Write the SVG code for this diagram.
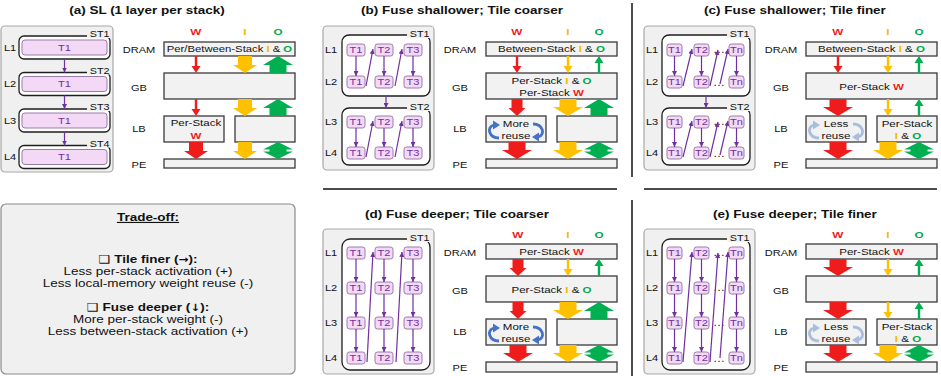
<svg xmlns="http://www.w3.org/2000/svg" width="941" height="376" viewBox="0 0 941 376">
<style>
text{font-family:"Liberation Sans","DejaVu Sans",Arial,sans-serif;fill:#111;transform-box:fill-box;transform-origin:center;transform:scaleX(1.2)}
.ttl{font-size:11.25px;font-weight:bold;text-anchor:middle}
.lvl{font-size:9.2px;text-anchor:middle}
.lab{font-size:9.2px}
.st{font-size:9px;text-anchor:end}
.bt{font-size:9.6px;text-anchor:middle}
.pt{font-size:9.2px;text-anchor:middle;fill:#7030a0}
.dots{font-size:10px;text-anchor:middle;fill:#222}
.hd{font-size:9.8px;font-weight:bold;text-anchor:middle}
.W{fill:#f01c1c;font-weight:bold}
.I{fill:#f5b800;font-weight:bold}
.O{fill:#00a84a;font-weight:bold}
.ar{font-family:"DejaVu Sans",sans-serif;font-size:10px}
.panel{fill:#f0f0f0;stroke:#a8a8a8;stroke-width:1.2}
.stk{fill:#ffffff;stroke:#1e1e1e;stroke-width:1.3}
.stbg{fill:#f0f0f0}
.pill{fill:#f3d9f6;stroke:#9b7ca8;stroke-width:1}
.mem{fill:#f2f2f2;stroke:#3a3a3a;stroke-width:1.3}
.pa{stroke:#7030a0;stroke-width:1.2;fill:none;marker-end:url(#pm)}
.sep{stroke:#111;stroke-width:1.5}
.tr{font-size:11.25px;text-anchor:middle}
.trb{font-size:11.25px;text-anchor:middle;font-weight:bold}
</style>
<defs>
<marker id="pm" viewBox="0 0 6 6" refX="6" refY="3" markerWidth="5" markerHeight="5" markerUnits="userSpaceOnUse" orient="auto"><path d="M0,0 L6,3 L0,6 z" fill="#7030a0"/></marker>
<path id="bD" d="M-8.5,0h17v8h6.5l-15,9l-15,-9h6.5z"/>
<path id="bU" d="M-8.5,17h17v-8h6.5l-15,-9l-15,9h6.5z"/>
<path id="bX" d="M0,0l15,7.5h-6.5v2h6.5l-15,7.5l-15,-7.5h6.5v-2h-6.5z"/>
<path id="mD" d="M-7,0h14v9h5l-12,8l-12,-8h5z"/>
<path id="rD" d="M-5.5,0h11v9h3l-8.5,8l-8.5,-8h3z"/>
<path id="tD" d="M-1.2,0h2.4v10h3.3l-4.5,7l-4.5,-7h3.3z"/>
<path id="tU" d="M-1.2,17h2.4v-10h3.3l-4.5,-7l-4.5,7h3.3z"/>
<g id="arcs">
<path d="M13,22 C3,22 0,11 8,9" fill="none" stroke="currentColor" stroke-width="2.8"/>
<polygon points="7,4.5 14,9 7,13.5" fill="currentColor"/>
<path d="M47,8 C57,8 60,19 52,21" fill="none" stroke="currentColor" stroke-width="2.8"/>
<polygon points="53,16.5 46,21 53,25.5" fill="currentColor"/>
</g>
</defs>

<!-- titles -->
<text class="ttl" x="147" y="14">(a) SL (1 layer per stack)</text>
<text class="ttl" x="462" y="14">(b) Fuse shallower; Tile coarser</text>
<text class="ttl" x="795" y="14">(c) Fuse shallower; Tile finer</text>
<text class="ttl" x="457" y="218">(d) Fuse deeper; Tile coarser</text>
<text class="ttl" x="795" y="218">(e) Fuse deeper; Tile finer</text>

<!-- separators -->
<g id="separators">
<line class="sep" x1="632" y1="3" x2="632" y2="177"/>
<line class="sep" x1="632" y1="200" x2="632" y2="376"/>
<line class="sep" x1="323" y1="189" x2="617" y2="189"/>
<line class="sep" x1="644" y1="189" x2="937" y2="189"/>
</g>

<!-- ===== Panel (a) stacks ===== -->
<g id="a-stacks">
<rect class="panel" x="1" y="26" width="112" height="146" rx="4"/>
<rect class="stk" x="19" y="36" width="91" height="23" rx="5"/>
<rect class="stbg" x="87" y="27" width="24" height="11"/>
<text class="st" x="108" y="37.5">ST1</text>
<rect class="pill" x="22" y="40" width="85" height="15" rx="3"/>
<text class="pt" x="64.5" y="51">T1</text>
<text class="lab" x="5" y="51">L1</text>

<rect class="stk" x="19" y="72.5" width="91" height="23" rx="5"/>
<rect class="stbg" x="87" y="63.5" width="24" height="11"/>
<text class="st" x="108" y="74">ST2</text>
<rect class="pill" x="22" y="76.5" width="85" height="15" rx="3"/>
<text class="pt" x="64.5" y="87.5">T1</text>
<text class="lab" x="5" y="87.5">L2</text>

<rect class="stk" x="19" y="109" width="91" height="23" rx="5"/>
<rect class="stbg" x="87" y="100" width="24" height="11"/>
<text class="st" x="108" y="110.5">ST3</text>
<rect class="pill" x="22" y="113" width="85" height="15" rx="3"/>
<text class="pt" x="64.5" y="124">T1</text>
<text class="lab" x="5" y="124">L3</text>

<rect class="stk" x="19" y="145.5" width="91" height="23" rx="5"/>
<rect class="stbg" x="87" y="136.5" width="24" height="11"/>
<text class="st" x="108" y="147">ST4</text>
<rect class="pill" x="22" y="149.5" width="85" height="15" rx="3"/>
<text class="pt" x="64.5" y="160.5">T1</text>
<text class="lab" x="5" y="160.5">L4</text>
</g>
<g id="a-stack-arrows">
<line class="pa" x1="64.5" y1="59" x2="64.5" y2="72.5"/>
<line class="pa" x1="64.5" y1="95.5" x2="64.5" y2="109"/>
<line class="pa" x1="64.5" y1="132" x2="64.5" y2="145.5"/>
</g>

<!-- ===== Panel (a) memory ===== -->
<g id="a-mem">
<text class="lvl" x="139" y="53.5">DRAM</text>
<text class="lvl" x="139" y="91.5">GB</text>
<text class="lvl" x="139" y="132.5">LB</text>
<text class="lvl" x="139" y="168.5">PE</text>
<text class="hd W" x="196" y="35">W</text>
<text class="hd I" x="245" y="35">I</text>
<text class="hd O" x="278" y="35">O</text>
<rect class="mem" x="164" y="42" width="131" height="14"/>
<text class="bt" x="229.5" y="52.5" style="font-size:9.4px">Per/Between-Stack <tspan class="I">I</tspan> &amp; <tspan class="O">O</tspan></text>
<rect class="mem" x="164" y="73" width="131" height="26"/>
<rect class="mem" x="164" y="116" width="60" height="26"/>
<text class="bt" x="196" y="126">Per-Stack</text>
<text class="bt W" x="196" y="139">W</text>
<rect class="mem" x="235" y="116" width="60" height="26"/>
<rect class="mem" x="164" y="159" width="131" height="9"/>
</g>
<g id="a-flows">
<use href="#tD" x="196" y="56" fill="#f01c1c"/>
<use href="#tD" x="196" y="99" fill="#f01c1c"/>
<use href="#mD" x="196" y="142" fill="#f01c1c"/>
<use href="#mD" x="245" y="56" fill="#ffc000"/>
<use href="#mD" x="245" y="99" fill="#ffc000"/>
<use href="#mD" x="245" y="142" fill="#ffc000"/>
<use href="#bU" x="278" y="56" fill="#00b050"/>
<use href="#bU" x="278" y="99" fill="#00b050"/>
<use href="#bX" x="278" y="142" fill="#00b050"/>
</g>

<!-- ===== Panel (b) stacks ===== -->
<g id="b-stacks">
<rect class="panel" x="323" y="26" width="111" height="144" rx="4"/>
<rect class="stk" x="342" y="35" width="88" height="61" rx="7"/>
<rect class="stbg" x="407" y="27" width="26" height="11"/>
<text class="st" x="428" y="37">ST1</text>
<rect class="stk" x="342" y="108" width="88" height="57" rx="7"/>
<rect class="stbg" x="407" y="100" width="26" height="11"/>
<text class="st" x="428" y="110">ST2</text>
<text class="lab" x="326" y="53.5">L1</text>
<text class="lab" x="326" y="85.5">L2</text>
<text class="lab" x="326" y="125.5">L3</text>
<text class="lab" x="326" y="156.5">L4</text>
<g id="b-pills">
<rect class="pill" x="347" y="44" width="18" height="12" rx="2.5"/><text class="pt" x="356" y="53.5">T1</text>
<rect class="pill" x="375" y="44" width="18" height="12" rx="2.5"/><text class="pt" x="384" y="53.5">T2</text>
<rect class="pill" x="404" y="44" width="18" height="12" rx="2.5"/><text class="pt" x="413" y="53.5">T3</text>
<rect class="pill" x="347" y="76" width="18" height="12" rx="2.5"/><text class="pt" x="356" y="85.5">T1</text>
<rect class="pill" x="375" y="76" width="18" height="12" rx="2.5"/><text class="pt" x="384" y="85.5">T2</text>
<rect class="pill" x="404" y="76" width="18" height="12" rx="2.5"/><text class="pt" x="413" y="85.5">T3</text>
<rect class="pill" x="347" y="116" width="18" height="12" rx="2.5"/><text class="pt" x="356" y="125.5">T1</text>
<rect class="pill" x="375" y="116" width="18" height="12" rx="2.5"/><text class="pt" x="384" y="125.5">T2</text>
<rect class="pill" x="404" y="116" width="18" height="12" rx="2.5"/><text class="pt" x="413" y="125.5">T3</text>
<rect class="pill" x="347" y="147" width="18" height="12" rx="2.5"/><text class="pt" x="356" y="156.5">T1</text>
<rect class="pill" x="375" y="147" width="18" height="12" rx="2.5"/><text class="pt" x="384" y="156.5">T2</text>
<rect class="pill" x="404" y="147" width="18" height="12" rx="2.5"/><text class="pt" x="413" y="156.5">T3</text>
</g>
</g>
<g id="b-stack-arrows">
<line class="pa" x1="356" y1="56" x2="356" y2="76"/>
<line class="pa" x1="384" y1="56" x2="384" y2="76"/>
<line class="pa" x1="413" y1="56" x2="413" y2="76"/>
<line class="pa" x1="366" y1="86" x2="373" y2="49"/>
<line class="pa" x1="395" y1="86" x2="402" y2="49"/>
<line class="pa" x1="386" y1="96" x2="386" y2="108"/>
<line class="pa" x1="356" y1="128" x2="356" y2="147"/>
<line class="pa" x1="384" y1="128" x2="384" y2="147"/>
<line class="pa" x1="413" y1="128" x2="413" y2="147"/>
<line class="pa" x1="366" y1="157" x2="373" y2="121"/>
<line class="pa" x1="395" y1="157" x2="402" y2="121"/>
</g>

<!-- ===== Panel (b) memory ===== -->
<g id="b-mem">
<text class="lvl" x="460" y="53.5">DRAM</text>
<text class="lvl" x="460" y="91.5">GB</text>
<text class="lvl" x="460" y="132.5">LB</text>
<text class="lvl" x="460" y="168.5">PE</text>
<text class="hd W" x="517" y="35">W</text>
<text class="hd I" x="568" y="35">I</text>
<text class="hd O" x="599" y="35">O</text>
<rect class="mem" x="486" y="42" width="131" height="14"/>
<text class="bt" x="551.5" y="52.5">Between-Stack <tspan class="I">I</tspan> &amp; <tspan class="O">O</tspan></text>
<rect class="mem" x="486" y="73" width="131" height="26"/>
<text class="bt" x="551.5" y="84">Per-Stack <tspan class="I">I</tspan> &amp; <tspan class="O">O</tspan></text>
<text class="bt" x="551.5" y="96.5">Per-Stack <tspan class="W">W</tspan></text>
<rect class="mem" x="486" y="116" width="60" height="26"/>
<use href="#arcs" x="486" y="116" color="#4472c4"/>
<text class="bt" x="516" y="127.5">More</text>
<text class="bt" x="516" y="139.5">reuse</text>
<rect class="mem" x="557" y="116" width="60" height="26"/>
<rect class="mem" x="486" y="159" width="131" height="9"/>
</g>
<g id="b-flows">
<use href="#tD" x="517" y="56" fill="#f01c1c"/>
<use href="#rD" x="517" y="99" fill="#f01c1c"/>
<use href="#bD" x="517" y="142" fill="#f01c1c"/>
<use href="#tD" x="568" y="56" fill="#ffc000"/>
<use href="#bD" x="568" y="99" fill="#ffc000"/>
<use href="#bD" x="568" y="142" fill="#ffc000"/>
<use href="#tU" x="599" y="56" fill="#00b050"/>
<use href="#bU" x="599" y="99" fill="#00b050"/>
<use href="#bX" x="599" y="142" fill="#00b050"/>
</g>

<!-- ===== Panel (c) stacks ===== -->
<g id="c-stacks">
<rect class="panel" x="644" y="26" width="111" height="144" rx="4"/>
<rect class="stk" x="662" y="35" width="88" height="61" rx="7"/>
<rect class="stbg" x="727" y="27" width="26" height="11"/>
<text class="st" x="748" y="37">ST1</text>
<rect class="stk" x="662" y="108" width="88" height="57" rx="7"/>
<rect class="stbg" x="727" y="100" width="26" height="11"/>
<text class="st" x="748" y="110">ST2</text>
<text class="lab" x="647" y="53.5">L1</text>
<text class="lab" x="647" y="85.5">L2</text>
<text class="lab" x="647" y="125.5">L3</text>
<text class="lab" x="647" y="156.5">L4</text>
<g id="c-pills">
<rect class="pill" x="667" y="44" width="15" height="12" rx="2.5"/><text class="pt" x="674.5" y="53.5">T1</text>
<rect class="pill" x="694" y="44" width="15" height="12" rx="2.5"/><text class="pt" x="701.5" y="53.5">T2</text>
<text class="dots" x="719" y="53">…</text>
<rect class="pill" x="729" y="44" width="15" height="12" rx="2.5"/><text class="pt" x="736.5" y="53.5">Tn</text>
<rect class="pill" x="667" y="76" width="15" height="12" rx="2.5"/><text class="pt" x="674.5" y="85.5">T1</text>
<rect class="pill" x="694" y="76" width="15" height="12" rx="2.5"/><text class="pt" x="701.5" y="85.5">T2</text>
<text class="dots" x="719" y="86">…</text>
<rect class="pill" x="729" y="76" width="15" height="12" rx="2.5"/><text class="pt" x="736.5" y="85.5">Tn</text>
<rect class="pill" x="667" y="116" width="15" height="12" rx="2.5"/><text class="pt" x="674.5" y="125.5">T1</text>
<rect class="pill" x="694" y="116" width="15" height="12" rx="2.5"/><text class="pt" x="701.5" y="125.5">T2</text>
<text class="dots" x="719" y="125">…</text>
<rect class="pill" x="729" y="116" width="15" height="12" rx="2.5"/><text class="pt" x="736.5" y="125.5">Tn</text>
<rect class="pill" x="667" y="147" width="15" height="12" rx="2.5"/><text class="pt" x="674.5" y="156.5">T1</text>
<rect class="pill" x="694" y="147" width="15" height="12" rx="2.5"/><text class="pt" x="701.5" y="156.5">T2</text>
<text class="dots" x="719" y="157">…</text>
<rect class="pill" x="729" y="147" width="15" height="12" rx="2.5"/><text class="pt" x="736.5" y="156.5">Tn</text>
</g>
</g>
<g id="c-stack-arrows">
<line class="pa" x1="674.5" y1="56" x2="674.5" y2="76"/>
<line class="pa" x1="701.5" y1="56" x2="701.5" y2="76"/>
<line class="pa" x1="736.5" y1="56" x2="736.5" y2="76"/>
<line class="pa" x1="683" y1="86" x2="692" y2="49"/>
<line class="pa" x1="710" y1="86" x2="718" y2="50"/>
<line class="pa" x1="720" y1="84" x2="728" y2="49"/>
<line class="pa" x1="706" y1="96" x2="706" y2="108"/>
<line class="pa" x1="674.5" y1="128" x2="674.5" y2="147"/>
<line class="pa" x1="701.5" y1="128" x2="701.5" y2="147"/>
<line class="pa" x1="736.5" y1="128" x2="736.5" y2="147"/>
<line class="pa" x1="683" y1="157" x2="692" y2="121"/>
<line class="pa" x1="710" y1="157" x2="718" y2="122"/>
<line class="pa" x1="720" y1="155" x2="728" y2="121"/>
</g>

<!-- ===== Panel (c) memory ===== -->
<g id="c-mem">
<text class="lvl" x="781" y="53.5">DRAM</text>
<text class="lvl" x="781" y="91.5">GB</text>
<text class="lvl" x="781" y="132.5">LB</text>
<text class="lvl" x="781" y="168.5">PE</text>
<text class="hd W" x="838" y="35">W</text>
<text class="hd I" x="888" y="35">I</text>
<text class="hd O" x="919" y="35">O</text>
<rect class="mem" x="806" y="42" width="131" height="14"/>
<text class="bt" x="871.5" y="52.5">Between-Stack <tspan class="I">I</tspan> &amp; <tspan class="O">O</tspan></text>
<rect class="mem" x="806" y="73" width="131" height="26"/>
<text class="bt" x="871.5" y="90">Per-Stack <tspan class="W">W</tspan></text>
<rect class="mem" x="806" y="116" width="60" height="26"/>
<use href="#arcs" x="806" y="116" color="#a9bedf"/>
<text class="bt" x="836" y="127.5">Less</text>
<text class="bt" x="836" y="139.5">reuse</text>
<rect class="mem" x="877" y="116" width="60" height="26"/>
<text class="bt" x="907" y="127">Per-Stack</text>
<text class="bt" x="908" y="139"><tspan class="I">I</tspan> &amp; <tspan class="O">O</tspan></text>
<rect class="mem" x="806" y="159" width="131" height="9"/>
</g>
<g id="c-flows">
<use href="#tD" x="838" y="56" fill="#f01c1c"/>
<use href="#bD" x="838" y="99" fill="#f01c1c"/>
<use href="#bD" x="838" y="142" fill="#f01c1c"/>
<use href="#tD" x="888" y="56" fill="#ffc000"/>
<use href="#tD" x="888" y="99" fill="#ffc000"/>
<use href="#bD" x="888" y="142" fill="#ffc000"/>
<use href="#tU" x="919" y="56" fill="#00b050"/>
<use href="#tU" x="919" y="99" fill="#00b050"/>
<use href="#bX" x="919" y="142" fill="#00b050"/>
</g>

<!-- ===== Trade-off ===== -->
<g id="tradeoff">
<rect class="panel" x="1" y="204" width="294" height="170" rx="5" style="stroke:#8a8a8a"/>
<text class="trb" x="148" y="221" text-decoration="underline">Trade-off:</text>
<text class="trb" x="148" y="263">❑ Tile finer (<tspan class="ar">→</tspan>):</text>
<text class="tr" x="148" y="275">Less per-stack activation (+)</text>
<text class="tr" x="148" y="287">Less local-memory weight reuse (-)</text>
<text class="trb" x="148" y="311">❑ Fuse deeper (<tspan class="ar">↓</tspan>):</text>
<text class="tr" x="148" y="323">More per-stack weight (-)</text>
<text class="tr" x="148" y="335">Less between-stack activation (+)</text>
</g>

<!-- ===== Panel (d) stacks ===== -->
<g id="d-stacks">
<rect class="panel" x="323" y="229" width="111" height="145" rx="4"/>
<rect class="stk" x="342" y="239" width="88" height="131" rx="8"/>
<rect class="stbg" x="407" y="230" width="26" height="12"/>
<text class="st" x="428" y="241">ST1</text>
<text class="lab" x="326" y="256.5">L1</text>
<text class="lab" x="326" y="291.5">L2</text>
<text class="lab" x="326" y="326.5">L3</text>
<text class="lab" x="326" y="361.5">L4</text>
<g id="d-pills">
<rect class="pill" x="347" y="247" width="18" height="12" rx="2.5"/><text class="pt" x="356" y="256.5">T1</text>
<rect class="pill" x="375" y="247" width="18" height="12" rx="2.5"/><text class="pt" x="384" y="256.5">T2</text>
<rect class="pill" x="404" y="247" width="18" height="12" rx="2.5"/><text class="pt" x="413" y="256.5">T3</text>
<rect class="pill" x="347" y="282" width="18" height="12" rx="2.5"/><text class="pt" x="356" y="291.5">T1</text>
<rect class="pill" x="375" y="282" width="18" height="12" rx="2.5"/><text class="pt" x="384" y="291.5">T2</text>
<rect class="pill" x="404" y="282" width="18" height="12" rx="2.5"/><text class="pt" x="413" y="291.5">T3</text>
<rect class="pill" x="347" y="317" width="18" height="12" rx="2.5"/><text class="pt" x="356" y="326.5">T1</text>
<rect class="pill" x="375" y="317" width="18" height="12" rx="2.5"/><text class="pt" x="384" y="326.5">T2</text>
<rect class="pill" x="404" y="317" width="18" height="12" rx="2.5"/><text class="pt" x="413" y="326.5">T3</text>
<rect class="pill" x="347" y="352" width="18" height="12" rx="2.5"/><text class="pt" x="356" y="361.5">T1</text>
<rect class="pill" x="375" y="352" width="18" height="12" rx="2.5"/><text class="pt" x="384" y="361.5">T2</text>
<rect class="pill" x="404" y="352" width="18" height="12" rx="2.5"/><text class="pt" x="413" y="361.5">T3</text>
</g>
</g>
<g id="d-stack-arrows">
<line class="pa" x1="356" y1="259" x2="356" y2="282"/>
<line class="pa" x1="384" y1="259" x2="384" y2="282"/>
<line class="pa" x1="413" y1="259" x2="413" y2="282"/>
<line class="pa" x1="356" y1="294" x2="356" y2="317"/>
<line class="pa" x1="384" y1="294" x2="384" y2="317"/>
<line class="pa" x1="413" y1="294" x2="413" y2="317"/>
<line class="pa" x1="356" y1="329" x2="356" y2="352"/>
<line class="pa" x1="384" y1="329" x2="384" y2="352"/>
<line class="pa" x1="413" y1="329" x2="413" y2="352"/>
<line class="pa" x1="367" y1="362" x2="373" y2="252"/>
<line class="pa" x1="396" y1="362" x2="402" y2="252"/>
</g>

<!-- ===== Panel (d) memory ===== -->
<g id="d-mem">
<text class="lvl" x="460" y="256.5">DRAM</text>
<text class="lvl" x="460" y="294.5">GB</text>
<text class="lvl" x="460" y="335.5">LB</text>
<text class="lvl" x="460" y="371.5">PE</text>
<text class="hd W" x="518" y="238">W</text>
<text class="hd I" x="568" y="238">I</text>
<text class="hd O" x="599" y="238">O</text>
<rect class="mem" x="486" y="244" width="131" height="15"/>
<text class="bt" x="551.5" y="255.5">Per-Stack <tspan class="W">W</tspan></text>
<rect class="mem" x="486" y="276" width="131" height="26"/>
<text class="bt" x="551.5" y="293">Per-Stack <tspan class="I">I</tspan> &amp; <tspan class="O">O</tspan></text>
<rect class="mem" x="486" y="319" width="60" height="26"/>
<use href="#arcs" x="486" y="319" color="#4472c4"/>
<text class="bt" x="516" y="330.5">More</text>
<text class="bt" x="516" y="342.5">reuse</text>
<rect class="mem" x="557" y="319" width="60" height="26"/>
<rect class="mem" x="486" y="362" width="131" height="10"/>
</g>
<g id="d-flows">
<use href="#rD" x="518" y="259" fill="#f01c1c"/>
<use href="#rD" x="518" y="302" fill="#f01c1c"/>
<use href="#bD" x="518" y="345" fill="#f01c1c"/>
<use href="#tD" x="568" y="259" fill="#ffc000"/>
<use href="#bD" x="568" y="302" fill="#ffc000"/>
<use href="#bD" x="568" y="345" fill="#ffc000"/>
<use href="#tU" x="599" y="259" fill="#00b050"/>
<use href="#bU" x="599" y="302" fill="#00b050"/>
<use href="#bX" x="599" y="345" fill="#00b050"/>
</g>

<!-- ===== Panel (e) stacks ===== -->
<g id="e-stacks">
<rect class="panel" x="644" y="229" width="111" height="145" rx="4"/>
<rect class="stk" x="662" y="239" width="88" height="131" rx="8"/>
<rect class="stbg" x="727" y="230" width="26" height="12"/>
<text class="st" x="748" y="241">ST1</text>
<text class="lab" x="647" y="256.5">L1</text>
<text class="lab" x="647" y="291.5">L2</text>
<text class="lab" x="647" y="326.5">L3</text>
<text class="lab" x="647" y="361.5">L4</text>
<g id="e-pills">
<rect class="pill" x="667" y="247" width="15" height="12" rx="2.5"/><text class="pt" x="674.5" y="256.5">T1</text>
<rect class="pill" x="694" y="247" width="15" height="12" rx="2.5"/><text class="pt" x="701.5" y="256.5">T2</text>
<text class="dots" x="719" y="256">…</text>
<rect class="pill" x="729" y="247" width="15" height="12" rx="2.5"/><text class="pt" x="736.5" y="256.5">Tn</text>
<rect class="pill" x="667" y="282" width="15" height="12" rx="2.5"/><text class="pt" x="674.5" y="291.5">T1</text>
<rect class="pill" x="694" y="282" width="15" height="12" rx="2.5"/><text class="pt" x="701.5" y="291.5">T2</text>
<text class="dots" x="719" y="291">…</text>
<rect class="pill" x="729" y="282" width="15" height="12" rx="2.5"/><text class="pt" x="736.5" y="291.5">Tn</text>
<rect class="pill" x="667" y="317" width="15" height="12" rx="2.5"/><text class="pt" x="674.5" y="326.5">T1</text>
<rect class="pill" x="694" y="317" width="15" height="12" rx="2.5"/><text class="pt" x="701.5" y="326.5">T2</text>
<text class="dots" x="719" y="326">…</text>
<rect class="pill" x="729" y="317" width="15" height="12" rx="2.5"/><text class="pt" x="736.5" y="326.5">Tn</text>
<rect class="pill" x="667" y="352" width="15" height="12" rx="2.5"/><text class="pt" x="674.5" y="361.5">T1</text>
<rect class="pill" x="694" y="352" width="15" height="12" rx="2.5"/><text class="pt" x="701.5" y="361.5">T2</text>
<text class="dots" x="719" y="362">…</text>
<rect class="pill" x="729" y="352" width="15" height="12" rx="2.5"/><text class="pt" x="736.5" y="361.5">Tn</text>
</g>
</g>
<g id="e-stack-arrows">
<line class="pa" x1="674.5" y1="259" x2="674.5" y2="282"/>
<line class="pa" x1="701.5" y1="259" x2="701.5" y2="282"/>
<line class="pa" x1="736.5" y1="259" x2="736.5" y2="282"/>
<line class="pa" x1="674.5" y1="294" x2="674.5" y2="317"/>
<line class="pa" x1="701.5" y1="294" x2="701.5" y2="317"/>
<line class="pa" x1="736.5" y1="294" x2="736.5" y2="317"/>
<line class="pa" x1="674.5" y1="329" x2="674.5" y2="352"/>
<line class="pa" x1="701.5" y1="329" x2="701.5" y2="352"/>
<line class="pa" x1="736.5" y1="329" x2="736.5" y2="352"/>
<line class="pa" x1="683" y1="362" x2="692" y2="252"/>
<line class="pa" x1="710" y1="362" x2="718" y2="253"/>
<line class="pa" x1="720" y1="358" x2="728" y2="252"/>
</g>

<!-- ===== Panel (e) memory ===== -->
<g id="e-mem">
<text class="lvl" x="781" y="256.5">DRAM</text>
<text class="lvl" x="781" y="294.5">GB</text>
<text class="lvl" x="781" y="335.5">LB</text>
<text class="lvl" x="781" y="371.5">PE</text>
<text class="hd W" x="838" y="238">W</text>
<text class="hd I" x="888" y="238">I</text>
<text class="hd O" x="919" y="238">O</text>
<rect class="mem" x="806" y="244" width="131" height="15"/>
<text class="bt" x="871.5" y="255.5">Per-Stack <tspan class="W">W</tspan></text>
<rect class="mem" x="806" y="276" width="131" height="26"/>
<rect class="mem" x="806" y="319" width="60" height="26"/>
<use href="#arcs" x="806" y="319" color="#a9bedf"/>
<text class="bt" x="836" y="330.5">Less</text>
<text class="bt" x="836" y="342.5">reuse</text>
<rect class="mem" x="877" y="319" width="60" height="26"/>
<text class="bt" x="907" y="330">Per-Stack</text>
<text class="bt" x="908" y="342"><tspan class="I">I</tspan> &amp; <tspan class="O">O</tspan></text>
<rect class="mem" x="806" y="362" width="131" height="10"/>
</g>
<g id="e-flows">
<use href="#bD" x="838" y="259" fill="#f01c1c"/>
<use href="#bD" x="838" y="302" fill="#f01c1c"/>
<use href="#bD" x="838" y="345" fill="#f01c1c"/>
<use href="#tD" x="888" y="259" fill="#ffc000"/>
<use href="#tD" x="888" y="302" fill="#ffc000"/>
<use href="#bD" x="888" y="345" fill="#ffc000"/>
<use href="#tU" x="919" y="259" fill="#00b050"/>
<use href="#tU" x="919" y="302" fill="#00b050"/>
<use href="#bX" x="919" y="345" fill="#00b050"/>
</g>
</svg>
